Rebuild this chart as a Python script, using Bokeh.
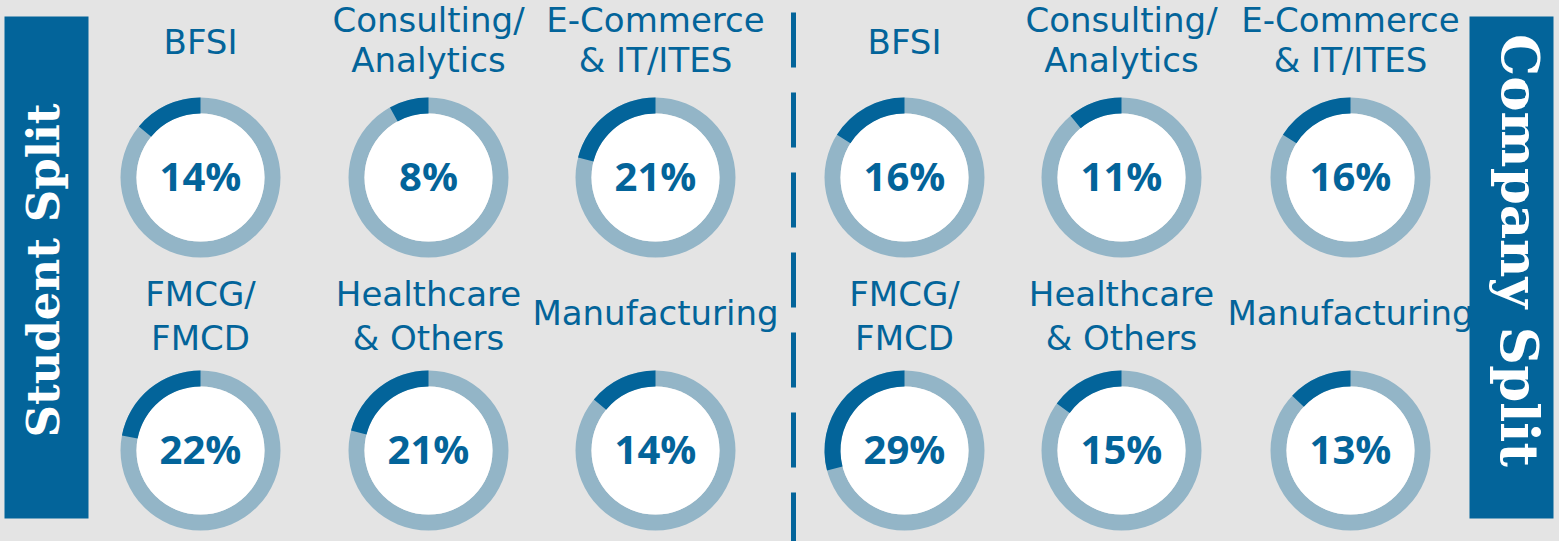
import math
from bokeh.plotting import figure
from bokeh.models import Range1d, ColumnDataSource
from bokeh.core.properties import value
from bokeh.embed import file_html
from bokeh.resources import INLINE

# ---------------- data ----------------
categories = ["BFSI", "Consulting/\nAnalytics", "E-Commerce\n& IT/ITES",
              "FMCG/\nFMCD", "Healthcare\n& Others", "Manufacturing"]
student_pct = [14, 8, 21, 22, 21, 14]
company_pct = [16, 11, 16, 29, 15, 13]
panel_titles = ["Student Split", "Company Split"]

# ---------------- style / layout ----------------
DARK = "#03649A"
LIGHT = "#93B5C7"
BG = "#E4E4E4"
W, H = 1559, 541


def Y(y):
    return H - y


col_x = [[200, 428, 655], [904, 1121, 1350]]
row_y = [177, 450]
first_line_center = {1: [43, 314], 2: [21, 295]}
line_gap = [40, 44]
LABEL_SIZE = 34
LABEL_SHIFT = 13.5   # renderer baseline offset correction
PCT_SHIFT = 17
R_OUT, R_IN = 80, 64

p = figure(width=W, height=H, x_range=Range1d(0, W), y_range=Range1d(0, H),
           output_backend="svg", toolbar_location=None, min_border=0)
p.axis.visible = False
p.grid.visible = False
p.outline_line_color = None
p.background_fill_color = BG
p.border_fill_color = BG

# side bars
p.quad(left=[4, 1469], right=[88, 1553], top=[Y(16), Y(16)], bottom=[Y(518), Y(518)],
       fill_color=DARK, line_color=None)
p.text(x=[43], y=[Y(270)], text=[panel_titles[0]], angle=[math.pi / 2],
       text_font=value("DejaVu Serif"), text_font_style="bold", text_font_size="45px",
       text_color="white", text_align="center", text_baseline="alphabetic")
p.text(x=[1520], y=[Y(250)], text=[panel_titles[1]], angle=[-math.pi / 2],
       text_font=value("DejaVu Serif"), text_font_style="bold", text_font_size="53px",
       text_color="white", text_align="center", text_baseline="alphabetic")

# divider
p.line([793, 793], [Y(12), Y(560)], line_width=5, line_dash="55 25", color=DARK)

dx, dy, end, pct_text = [], [], [], []
lx, ly, ltext = [], [], []
for k, pcts in enumerate([student_pct, company_pct]):
    for i, (cat, v) in enumerate(zip(categories, pcts)):
        cx = col_x[k][i % 3]
        row = i // 3
        cy = row_y[row]
        dx.append(cx)
        dy.append(Y(cy))
        end.append(math.pi / 2 + 2 * math.pi * v / 100.0)
        pct_text.append(f"{v}%")
        lines = cat.split("\n")
        c0 = first_line_center[len(lines)][row]
        for j, ln in enumerate(lines):
            lx.append(cx)
            ly.append(Y(c0 + j * line_gap[row] + 0.729 * LABEL_SIZE / 2 - LABEL_SHIFT))
            ltext.append(ln)

src = ColumnDataSource(dict(x=dx, y=dy, end=end, pct=pct_text,
                            ty=[y - 15 + PCT_SHIFT for y in dy]))
p.annulus(x="x", y="y", inner_radius=R_IN, outer_radius=R_OUT, source=src,
          fill_color=LIGHT, line_color=None)
p.circle(x="x", y="y", radius=R_IN, source=src, fill_color="white", line_color=None)
p.annular_wedge(x="x", y="y", inner_radius=R_IN, outer_radius=R_OUT,
                start_angle=math.pi / 2, end_angle="end", direction="anticlock",
                source=src, fill_color=DARK, line_color=None)
p.text(x="x", y="ty", text="pct", source=src, text_font=value("Open Sans"),
       text_font_style="bold", text_font_size="40px", text_color=DARK,
       text_align="center", text_baseline="alphabetic")

lsrc = ColumnDataSource(dict(x=lx, y=ly, t=ltext))
p.text(x="x", y="y", text="t", source=lsrc, text_font=value("DejaVu Sans"),
       text_font_size=f"{LABEL_SIZE}px", text_color=DARK,
       text_align="center", text_baseline="alphabetic")

html = file_html(p, INLINE)
html = html.replace("</head>", "<style>body{background:#E4E4E4;}</style></head>", 1)
open("out.html", "w").write(html)
